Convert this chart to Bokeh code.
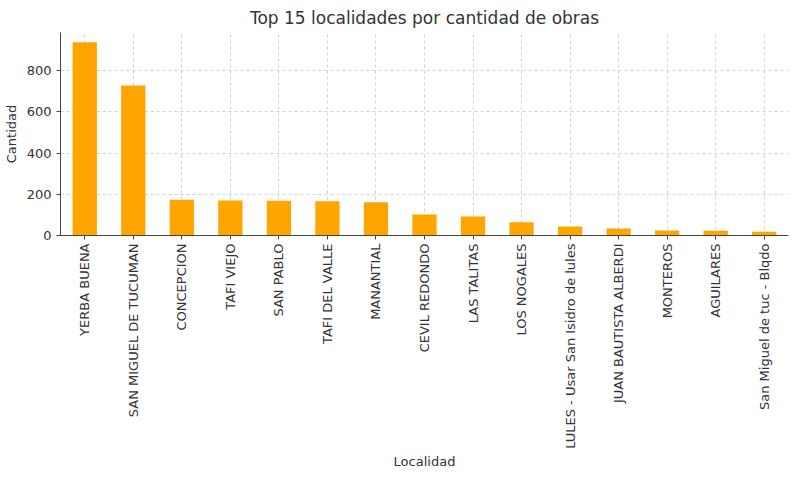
from bokeh.plotting import figure
from bokeh.models import Range1d, FactorRange
from bokeh.embed import file_html
from bokeh.resources import INLINE
import math

localidades = ["YERBA BUENA", "SAN MIGUEL DE TUCUMAN", "CONCEPCION", "TAFI VIEJO", "SAN PABLO",
               "TAFI DEL VALLE", "MANANTIAL", "CEVIL REDONDO", "LAS TALITAS", "LOS NOGALES",
               "LULES - Usar San Isidro de lules", "JUAN BAUTISTA ALBERDI", "MONTEROS", "AGUILARES",
               "San Miguel de tuc - Blqdo"]
cantidad = [938, 728, 173, 170, 169, 166, 161, 102, 92, 64, 44, 34, 24, 23, 18]
y_ticks = [0, 200, 400, 600, 800]

FONT = "DejaVu Sans"
TXT = "#333333"

p = figure(width=790, height=471, x_range=FactorRange(factors=localidades, range_padding=0),
           y_range=Range1d(0, max(cantidad) * 1.05),
           output_backend="svg", toolbar_location=None,
           title="Top 15 localidades por cantidad de obras")
p.min_border_left = 51
p.min_border_right = 2
p.min_border_top = 24
p.min_border_bottom = 200

p.vbar(x=localidades, top=cantidad, width=0.5, color="#FFA500", line_color=None)

p.title.align = "center"
p.title.text_font = FONT
p.title.text_font_size = "17px"
p.title.text_font_style = "normal"
p.title.text_color = TXT

p.outline_line_color = None
for ax in (p.xaxis, p.yaxis):
    ax.axis_line_color = "#444444"
    ax.major_tick_line_color = "#444444"
    ax.major_tick_out = 4
    ax.major_tick_in = 0
    ax.minor_tick_line_color = None
    ax.major_label_text_font = FONT
    ax.major_label_text_font_size = "13px"
    ax.major_label_text_color = TXT
    ax.axis_label_text_font = FONT
    ax.axis_label_text_font_size = "13px"
    ax.axis_label_text_font_style = "normal"
    ax.axis_label_text_color = TXT

p.yaxis.ticker = y_ticks
p.yaxis.axis_label = "Cantidad"
p.xaxis.axis_label = "Localidad"
p.xaxis.major_label_orientation = math.pi / 2
p.xaxis.major_label_standoff = 4
p.xaxis.axis_label_standoff = 2

p.xgrid.grid_line_color = "#d0d0d0"
p.ygrid.grid_line_color = "#d0d0d0"
p.xgrid.grid_line_dash = "3 3"
p.ygrid.grid_line_dash = "3 3"

open("out.html", "w").write(file_html(p, INLINE))
